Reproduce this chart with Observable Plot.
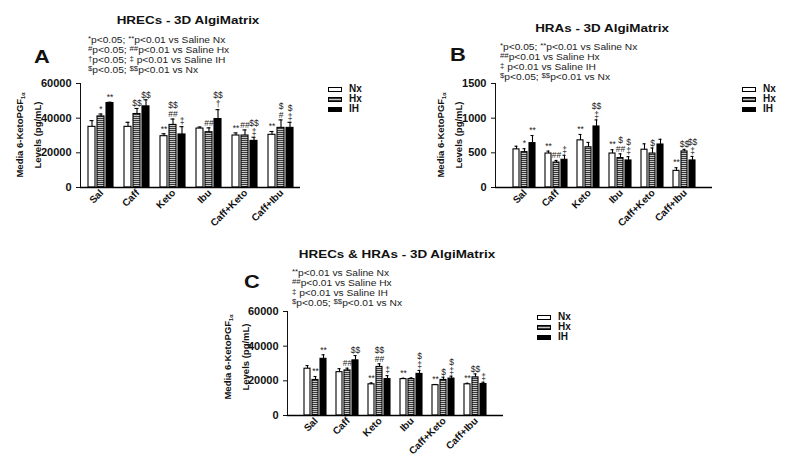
<!DOCTYPE html>
<html><head><meta charset="utf-8">
<script src="https://cdn.jsdelivr.net/npm/d3@7"></script>
<script src="https://cdn.jsdelivr.net/npm/@observablehq/plot@0.6"></script>
<style>
body{margin:0;background:#fff;font-family:"Liberation Sans",Arial,sans-serif;}
#wrap{position:relative;width:800px;height:470px;overflow:hidden;}
.abs{position:absolute;white-space:nowrap;color:#111;font-family:"Liberation Sans",Arial,sans-serif;}
.title{font-weight:bold;font-size:11px;transform:translate(-50%,-50%) scaleX(1.22);}
.stats{font-size:8.5px;line-height:10px;color:#222;transform-origin:0 0;transform:scaleX(1.2);}
.stats sup{font-size:6.5px;vertical-align:2px;line-height:0;}
.letter{font-weight:bold;font-size:19px;transform:translate(-50%,-50%) scaleX(1.15);}
.ytitle{font-weight:bold;font-size:9.5px;line-height:13px;text-align:center;transform:translate(-50%,-50%) rotate(-90deg);}
.ytitle sub{font-size:5.5px;}
.leg{font-weight:bold;font-size:10px;line-height:10px;}
.sw{display:inline-block;width:14px;height:5px;border:1.2px solid #000;vertical-align:middle;margin-right:7px;box-sizing:border-box;}
</style></head>
<body>
<svg width="0" height="0" style="position:absolute">
<defs>
<pattern id="hatch" width="4" height="2" patternUnits="userSpaceOnUse">
<rect width="4" height="2" fill="#c8c8c8"/><rect width="4" height="1" fill="#3a3a3a"/>
</pattern>
</defs>
</svg>
<div id="wrap"></div>
<script>
// ---- data ----
const categories = ["Sal","Caff","Keto","Ibu","Caff+Keto","Caff+Ibu"];
const series = ["Nx","Hx","IH"];

// Panel A: HRECs (pg/mL)
const aNx    = [35000, 35000, 29600, 34000, 30000, 30400];
const aHx    = [41000, 42400, 36100, 31900, 30000, 34400];
const aIH    = [48700, 46800, 30600, 39500, 26900, 34400];
const aNxErr = [38600, 37600, 31000, 34900, 31500, 32300];
const aHxErr = [42400, 45600, 39500, 34400, 33200, 39000];
const aIHErr = [49200, 50600, 35100, 44900, 29000, 37600];
const aNxM1 = ["", "", "**", "", "**", "**"];
const aHxM1 = ["*", "$$", "##", "##", "##", "#"];
const aHxM2 = ["", "", "$$", "", "", "$"];
const aIHM1 = ["**", "$$", "‡", "†", "‡", "‡"];
const aIHM2 = ["", "", "", "$$", "$$", "$"];
const aTicks = [0, 20000, 40000, 60000];

// Panel B: HRAs (pg/mL)
const bNx    = [550, 490, 680, 490, 545, 240];
const bHx    = [510, 360, 580, 425, 490, 520];
const bIH    = [640, 400, 880, 390, 620, 390];
const bNxErr = [595, 525, 765, 545, 630, 285];
const bHxErr = [560, 390, 650, 485, 570, 550];
const bIHErr = [750, 465, 975, 445, 695, 448];
const bNxM1 = ["", "**", "**", "**", "", "**"];
const bHxM1 = ["*", "##", "", "##", "$", "$$"];
const bHxM2 = ["", "", "", "$", "", ""];
const bIHM1 = ["**", "‡", "‡", "‡", "", "‡"];
const bIHM2 = ["", "", "$$", "$", "", "$$"];
const bTicks = [0, 500, 1000, 1500];

// Panel C: HRECs & HRAs (pg/mL)
const cNx    = [27000, 25000, 18000, 21000, 17500, 18000];
const cHx    = [20500, 26000, 28000, 21000, 20500, 22000];
const cIH    = [32700, 31800, 21000, 24000, 21300, 18200];
const cNxErr = [28800, 27000, 18800, 21500, 17900, 18600];
const cHxErr = [22500, 27300, 29800, 21700, 22100, 24000];
const cIHErr = [35000, 34600, 23000, 26000, 22700, 19200];
const cNxM1 = ["", "", "**", "**", "**", "**"];
const cHxM1 = ["**", "##", "##", "", "$", "$$"];
const cHxM2 = ["", "", "$$", "", "", ""];
const cIHM1 = ["**", "$$", "‡", "‡", "‡", "‡"];
const cIHM2 = ["", "", "", "$", "$", ""];
const cTicks = [0, 20000, 40000, 60000];

// ---- helpers ----
const fills = {Nx: "white", Hx: "url(#hatch)", IH: "black"};
const none = ["", "", "", "", "", ""];

function rowsFor(vals, errs, m1, m2) {
  const rows = [];
  categories.forEach((c, i) => {
    series.forEach((s, j) => {
      rows.push({cat: c, s, key: c + "|" + s, v: vals[j][i], e: errs[j][i],
                 m1: m1[j][i], m2: m2[j][i]});
    });
  });
  return rows;
}
const keys = [];
categories.forEach((c, i) => {
  series.forEach(s => keys.push(c + "|" + s));
  if (i < categories.length - 1) keys.push(c + "|gap");
});

function panel(rows, cfg) {
  const marks = [];
  for (const s of series) {
    marks.push(Plot.barY(rows.filter(d => d.s === s), {
      x: "key", y: "v", fill: fills[s], stroke: "black", strokeWidth: 1.1
    }));
  }
  marks.push(Plot.ruleX(rows, {x: "key", y1: "v", y2: "e", stroke: "black", strokeWidth: 1.1}));
  marks.push(Plot.tickY(rows, {x: "key", y: "e", stroke: "black", strokeWidth: 1.1, insetLeft: 1.5, insetRight: 1.5}));
  marks.push(Plot.text(rows.filter(d => d.m1), {x: "key", y: "e", text: "m1", dy: -5, fontSize: 8.5, fill: "#222", fontWeight: "normal"}));
  marks.push(Plot.text(rows.filter(d => d.m2), {x: "key", y: "e", text: "m2", dy: -14, fontSize: 8.5, fill: "#222", fontWeight: "normal"}));
  marks.push(Plot.ruleY([0], {stroke: "black", strokeWidth: 1.5}));
  marks.push(Plot.text(categories, {x: d => d + "|Hx", frameAnchor: "bottom", text: d => d, rotate: -45,
    textAnchor: "end", dx: 3, dy: 6, fontSize: 10, fontWeight: "bold", fill: "#111"}));
  return Plot.plot({
    width: cfg.width, height: cfg.height,
    marginLeft: cfg.ml, marginRight: cfg.mr, marginTop: cfg.mt, marginBottom: cfg.mb,
    style: {fontFamily: "Liberation Sans, Arial, sans-serif", fontWeight: "bold", fontSize: "11px", overflow: "visible", background: "transparent", color: "#111"},
    x: {domain: keys, axis: null, paddingInner: 0.25, paddingOuter: 0.77},
    y: {domain: cfg.ydomain, ticks: cfg.ticks, tickFormat: "d", tickSize: 4, label: null, line: true},
    marks
  });
}

const wrap = document.getElementById("wrap");
function place(node, left, top) {
  node.style.position = "absolute";
  node.style.left = left + "px";
  node.style.top = top + "px";
  wrap.appendChild(node);
}
function addDiv(cls, html, left, top) {
  const d = document.createElement("div");
  d.className = "abs " + cls;
  d.innerHTML = html;
  d.style.left = left + "px";
  d.style.top = top + "px";
  wrap.appendChild(d);
  return d;
}

const A = panel(rowsFor([aNx, aHx, aIH], [aNxErr, aHxErr, aIHErr], [aNxM1, aHxM1, aIHM1], [none, aHxM2, aIHM2]),
  {width: 310, height: 160, ml: 80, mr: 10, mt: 13, mb: 43, ydomain: [0, 60000], ticks: aTicks});
place(A, 0, 70);
const B = panel(rowsFor([bNx, bHx, bIH], [bNxErr, bHxErr, bIHErr], [bNxM1, bHxM1, bIHM1], [none, bHxM2, bIHM2]),
  {width: 330, height: 160, ml: 105, mr: 8, mt: 13, mb: 43, ydomain: [0, 1500], ticks: bTicks});
place(B, 390, 70);
const C = panel(rowsFor([cNx, cHx, cIH], [cNxErr, cHxErr, cIHErr], [cNxM1, cHxM1, cIHM1], [none, cHxM2, cIHM2]),
  {width: 330, height: 170, ml: 107, mr: 7, mt: 15, mb: 51, ydomain: [0, 60000], ticks: cTicks});
place(C, 180, 296);

// titles
addDiv("title", "HRECs - 3D AlgiMatrix", 188, 20);
addDiv("title", "HRAs - 3D AlgiMatrix", 602, 28);
addDiv("title", "HRECs &amp; HRAs - 3D AlgiMatrix", 397, 254);

// panel letters
addDiv("letter", "A", 42, 57);
addDiv("letter", "B", 458, 55);
addDiv("letter", "C", 252, 282);

// stats
addDiv("stats", "<sup>*</sup>p&lt;0.05; <sup>**</sup>p&lt;0.01 vs Saline Nx<br><sup>#</sup>p&lt;0.05; <sup>##</sup>p&lt;0.01 vs Saline Hx<br><sup>†</sup>p&lt;0.05; <sup>‡</sup> p&lt;0.01 vs Saline IH<br><sup>$</sup>p&lt;0.05; <sup>$$</sup>p&lt;0.01 vs Nx", 88, 35);
addDiv("stats", "<sup>*</sup>p&lt;0.05; <sup>**</sup>p&lt;0.01 vs Saline Nx<br><sup>##</sup>p&lt;0.01 vs Saline Hx<br><sup>‡</sup> p&lt;0.01 vs Saline IH<br><sup>$</sup>p&lt;0.05; <sup>$$</sup>p&lt;0.01 vs Nx", 500, 42);
addDiv("stats", "<sup>**</sup>p&lt;0.01 vs Saline Nx<br><sup>##</sup>p&lt;0.01 vs Saline Hx<br><sup>‡</sup> p&lt;0.01 vs Saline IH<br><sup>$</sup>p&lt;0.05; <sup>$$</sup>p&lt;0.01 vs Nx", 292, 268);

// y titles
const yt = "Media 6-KetoPGF<sub>1α</sub><br>Levels (pg/mL)";
addDiv("ytitle", yt, 28, 135);
addDiv("ytitle", yt, 449, 135);
addDiv("ytitle", yt, 236, 357);

// legends
function legend(left, top) {
  const sw = {Nx: "background:#fff", Hx: "background-image:repeating-linear-gradient(#3a3a3a 0 1px,#c8c8c8 1px 2px)", IH: "background:#000"};
  addDiv("leg", series.map(s => `<span class="sw" style="${sw[s]}"></span>${s}`).join("<br>"), left, top);
}
legend(328, 84);
legend(742, 84);
legend(537, 312);
</script>
</body></html>
